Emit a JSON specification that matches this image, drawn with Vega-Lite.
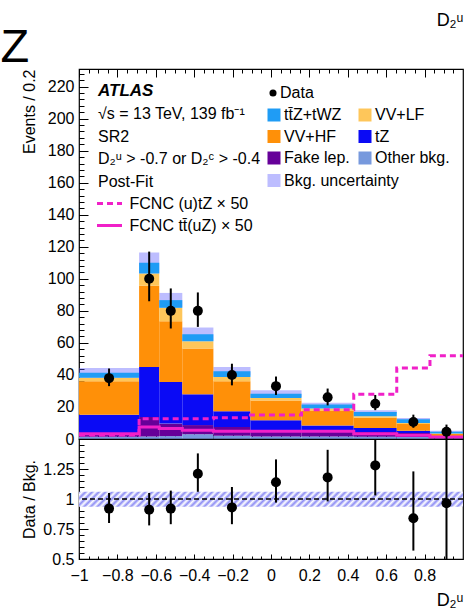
{
 "$schema": "https://vega.github.io/schema/vega-lite/v6.json",
 "background": "white",
 "padding": {"left": 0, "top": 10, "right": 0, "bottom": 0},
 "spacing": 0,
 "bounds": "flush",
 "title": {"text": "Z", "anchor": "start", "frame": "bounds", "fontSize": 47, "fontWeight": "normal", "color": "black", "offset": -61, "dx": -20},
 "config": {
  "font": "Liberation Sans",
  "view": {"stroke": "black", "strokeWidth": 1.2},
  "axis": {"domain": false, "grid": false, "labelFontSize": 16, "labelColor": "black", "labelFont": "Liberation Sans", "tickColor": "black", "tickWidth": 1, "titleFontSize": 16, "titleFontWeight": "normal", "titleColor": "black", "titleFont": "Liberation Sans", "labelOverlap": false, "labelFlush": false},
  "legend": {"labelFontSize": 16, "labelColor": "black", "labelFont": "Liberation Sans", "padding": 0}
 },
 "datasets": {
  "bkg": [
   {"lo": -1, "hi": -0.687, "c": "Other bkg.", "k": 1, "v": 1.35},
   {"lo": -1, "hi": -0.687, "c": "Fake lep.", "k": 2, "v": 2.4},
   {"lo": -1, "hi": -0.687, "c": "tZ", "k": 3, "v": 11.45},
   {"lo": -1, "hi": -0.687, "c": "VV+HF", "k": 4, "v": 20.9},
   {"lo": -1, "hi": -0.687, "c": "VV+LF", "k": 5, "v": 2.2},
   {"lo": -1, "hi": -0.687, "c": "tt̄Z+tWZ", "k": 6, "v": 3.0},
   {"lo": -0.687, "hi": -0.582, "c": "Other bkg.", "k": 1, "v": 1.5},
   {"lo": -0.687, "hi": -0.582, "c": "Fake lep.", "k": 2, "v": 12.25},
   {"lo": -0.687, "hi": -0.582, "c": "tZ", "k": 3, "v": 31.25},
   {"lo": -0.687, "hi": -0.582, "c": "VV+HF", "k": 4, "v": 50.6},
   {"lo": -0.687, "hi": -0.582, "c": "VV+LF", "k": 5, "v": 7.7},
   {"lo": -0.687, "hi": -0.582, "c": "tt̄Z+tWZ", "k": 6, "v": 6.7},
   {"lo": -0.582, "hi": -0.462, "c": "Other bkg.", "k": 1, "v": 1.8},
   {"lo": -0.582, "hi": -0.462, "c": "Fake lep.", "k": 2, "v": 7.8},
   {"lo": -0.582, "hi": -0.462, "c": "tZ", "k": 3, "v": 26.0},
   {"lo": -0.582, "hi": -0.462, "c": "VV+HF", "k": 4, "v": 37.9},
   {"lo": -0.582, "hi": -0.462, "c": "VV+LF", "k": 5, "v": 8.4},
   {"lo": -0.582, "hi": -0.462, "c": "tt̄Z+tWZ", "k": 6, "v": 4.8},
   {"lo": -0.462, "hi": -0.3, "c": "Other bkg.", "k": 1, "v": 3.0},
   {"lo": -0.462, "hi": -0.3, "c": "Fake lep.", "k": 2, "v": 5.7},
   {"lo": -0.462, "hi": -0.3, "c": "tZ", "k": 3, "v": 19.2},
   {"lo": -0.462, "hi": -0.3, "c": "VV+HF", "k": 4, "v": 28.6},
   {"lo": -0.462, "hi": -0.3, "c": "VV+LF", "k": 5, "v": 4.5},
   {"lo": -0.462, "hi": -0.3, "c": "tt̄Z+tWZ", "k": 6, "v": 4.4},
   {"lo": -0.3, "hi": -0.107, "c": "Other bkg.", "k": 1, "v": 2.0},
   {"lo": -0.3, "hi": -0.107, "c": "Fake lep.", "k": 2, "v": 5.5},
   {"lo": -0.3, "hi": -0.107, "c": "tZ", "k": 3, "v": 9.8},
   {"lo": -0.3, "hi": -0.107, "c": "VV+HF", "k": 4, "v": 18.7},
   {"lo": -0.3, "hi": -0.107, "c": "VV+LF", "k": 5, "v": 2.75},
   {"lo": -0.3, "hi": -0.107, "c": "tt̄Z+tWZ", "k": 6, "v": 3.55},
   {"lo": -0.107, "hi": 0.159, "c": "Other bkg.", "k": 1, "v": 1.6},
   {"lo": -0.107, "hi": 0.159, "c": "Fake lep.", "k": 2, "v": 3.8},
   {"lo": -0.107, "hi": 0.159, "c": "tZ", "k": 3, "v": 6.3},
   {"lo": -0.107, "hi": 0.159, "c": "VV+HF", "k": 4, "v": 12.3},
   {"lo": -0.107, "hi": 0.159, "c": "VV+LF", "k": 5, "v": 1.6},
   {"lo": -0.107, "hi": 0.159, "c": "tt̄Z+tWZ", "k": 6, "v": 2.7},
   {"lo": 0.159, "hi": 0.431, "c": "Other bkg.", "k": 1, "v": 1.5},
   {"lo": 0.159, "hi": 0.431, "c": "Fake lep.", "k": 2, "v": 3.3},
   {"lo": 0.159, "hi": 0.431, "c": "tZ", "k": 3, "v": 3.7},
   {"lo": 0.159, "hi": 0.431, "c": "VV+HF", "k": 4, "v": 9.0},
   {"lo": 0.159, "hi": 0.431, "c": "VV+LF", "k": 5, "v": 1.5},
   {"lo": 0.159, "hi": 0.431, "c": "tt̄Z+tWZ", "k": 6, "v": 2.5},
   {"lo": 0.431, "hi": 0.655, "c": "Other bkg.", "k": 1, "v": 1.4},
   {"lo": 0.431, "hi": 0.655, "c": "Fake lep.", "k": 2, "v": 3.0},
   {"lo": 0.431, "hi": 0.655, "c": "tZ", "k": 3, "v": 2.5},
   {"lo": 0.431, "hi": 0.655, "c": "VV+HF", "k": 4, "v": 6.4},
   {"lo": 0.431, "hi": 0.655, "c": "VV+LF", "k": 5, "v": 0.9},
   {"lo": 0.431, "hi": 0.655, "c": "tt̄Z+tWZ", "k": 6, "v": 2.7},
   {"lo": 0.655, "hi": 0.828, "c": "Other bkg.", "k": 1, "v": 1.2},
   {"lo": 0.655, "hi": 0.828, "c": "Fake lep.", "k": 2, "v": 2.55},
   {"lo": 0.655, "hi": 0.828, "c": "tZ", "k": 3, "v": 1.45},
   {"lo": 0.655, "hi": 0.828, "c": "VV+HF", "k": 4, "v": 4.2},
   {"lo": 0.655, "hi": 0.828, "c": "VV+LF", "k": 5, "v": 0.6},
   {"lo": 0.655, "hi": 0.828, "c": "tt̄Z+tWZ", "k": 6, "v": 2.3},
   {"lo": 0.828, "hi": 1.0, "c": "Other bkg.", "k": 1, "v": 0.3},
   {"lo": 0.828, "hi": 1.0, "c": "Fake lep.", "k": 2, "v": 0.7},
   {"lo": 0.828, "hi": 1.0, "c": "tZ", "k": 3, "v": 0.6},
   {"lo": 0.828, "hi": 1.0, "c": "VV+HF", "k": 4, "v": 1.6},
   {"lo": 0.828, "hi": 1.0, "c": "VV+LF", "k": 5, "v": 0.3},
   {"lo": 0.828, "hi": 1.0, "c": "tt̄Z+tWZ", "k": 6, "v": 1.1}
  ],
  "tot": [
   {"lo": -1, "hi": -0.687, "xc": -0.8435, "ulo": 38.3, "uhi": 44.3, "n": 38, "nlo": 33, "nhi": 44, "r": 0.92, "rlo": 0.8, "rhi": 1.05},
   {"lo": -0.687, "hi": -0.582, "xc": -0.6345, "ulo": 103.5, "uhi": 116.5, "n": 100, "nlo": 86, "nhi": 117, "r": 0.91, "rlo": 0.78, "rhi": 1.05},
   {"lo": -0.582, "hi": -0.462, "xc": -0.522, "ulo": 82.2, "uhi": 91.2, "n": 80, "nlo": 69, "nhi": 94, "r": 0.92, "rlo": 0.79, "rhi": 1.07},
   {"lo": -0.462, "hi": -0.3, "xc": -0.381, "ulo": 61.2, "uhi": 69.6, "n": 80, "nlo": 70, "nhi": 91.5, "r": 1.21, "rlo": 1.06, "rhi": 1.38},
   {"lo": -0.3, "hi": -0.107, "xc": -0.2035, "ulo": 39.6, "uhi": 45.0, "n": 40, "nlo": 33.5, "nhi": 47, "r": 0.93, "rlo": 0.79, "rhi": 1.1},
   {"lo": -0.107, "hi": 0.159, "xc": 0.026, "ulo": 26.2, "uhi": 30.4, "n": 33, "nlo": 27.5, "nhi": 39, "r": 1.14, "rlo": 0.97, "rhi": 1.33},
   {"lo": 0.159, "hi": 0.431, "xc": 0.295, "ulo": 20.3, "uhi": 22.7, "n": 26, "nlo": 21, "nhi": 31.5, "r": 1.18, "rlo": 0.98, "rhi": 1.41},
   {"lo": 0.431, "hi": 0.655, "xc": 0.543, "ulo": 15.9, "uhi": 17.9, "n": 22, "nlo": 18, "nhi": 27.5, "r": 1.28, "rlo": 1.03, "rhi": 1.6},
   {"lo": 0.655, "hi": 0.828, "xc": 0.7415, "ulo": 11.5, "uhi": 13.1, "n": 10.6, "nlo": 7, "nhi": 15.2, "r": 0.84, "rlo": 0.57, "rhi": 1.23},
   {"lo": 0.828, "hi": 1.0, "xc": 0.914, "ulo": 4.1, "uhi": 5.1, "n": 4.5, "nlo": 0, "nhi": 9, "r": 0.964, "rlo": 0, "rhi": 2.1}
  ],
  "rband": [
   {"lo": -1, "hi": 1, "blo": 0.935, "bhi": 1.06}
  ],
  "fcnc": [
   {"s": "FCNC (u)tZ × 50", "e": -1, "w": 2.5},
   {"s": "FCNC (u)tZ × 50", "e": -0.687, "w": 12.7},
   {"s": "FCNC (u)tZ × 50", "e": -0.582, "w": 12.7},
   {"s": "FCNC (u)tZ × 50", "e": -0.462, "w": 12.7},
   {"s": "FCNC (u)tZ × 50", "e": -0.3, "w": 13.2},
   {"s": "FCNC (u)tZ × 50", "e": -0.107, "w": 15.0},
   {"s": "FCNC (u)tZ × 50", "e": 0.159, "w": 18.3},
   {"s": "FCNC (u)tZ × 50", "e": 0.431, "w": 27.9},
   {"s": "FCNC (u)tZ × 50", "e": 0.655, "w": 44.4},
   {"s": "FCNC (u)tZ × 50", "e": 0.828, "w": 51.9},
   {"s": "FCNC (u)tZ × 50", "e": 1.0, "w": 51.9},
   {"s": "FCNC tt̄(uZ) × 50", "e": -1, "w": 3.3},
   {"s": "FCNC tt̄(uZ) × 50", "e": -0.687, "w": 7.5},
   {"s": "FCNC tt̄(uZ) × 50", "e": -0.582, "w": 6.5},
   {"s": "FCNC tt̄(uZ) × 50", "e": -0.462, "w": 5.4},
   {"s": "FCNC tt̄(uZ) × 50", "e": -0.3, "w": 4.8},
   {"s": "FCNC tt̄(uZ) × 50", "e": -0.107, "w": 4.8},
   {"s": "FCNC tt̄(uZ) × 50", "e": 0.159, "w": 4.8},
   {"s": "FCNC tt̄(uZ) × 50", "e": 0.431, "w": 3.3},
   {"s": "FCNC tt̄(uZ) × 50", "e": 0.655, "w": 2.3},
   {"s": "FCNC tt̄(uZ) × 50", "e": 0.828, "w": 1.2},
   {"s": "FCNC tt̄(uZ) × 50", "e": 1.0, "w": 1.2}
  ]
 },
 "resolve": {"legend": {"color": "independent", "fill": "independent", "shape": "independent", "strokeDash": "independent"}},
 "vconcat": [
  {
   "width": 384, "height": 370,
   "title": {"text": "ATLAS", "subtitle": ["√s = 13 TeV, 139 fb⁻¹", "SR2", "D₂ᵘ > -0.7 or D₂ᶜ > -0.4", "Post-Fit"], "anchor": "start", "frame": "group", "fontSize": 17, "fontStyle": "italic", "fontWeight": "bold", "color": "black", "subtitleFontSize": 16, "subtitleColor": "black", "subtitleFont": "Liberation Sans", "subtitleLineHeight": 22.5, "subtitlePadding": 6, "offset": -179, "dx": 19},
   "resolve": {"axis": {"x": "independent", "y": "independent"}},
   "layer": [
    {
     "data": {"name": "tot"},
     "mark": {"type": "bar", "fillOpacity": 0.4, "strokeWidth": 0},
     "encoding": {
      "x": {"field": "lo", "type": "quantitative", "scale": {"domain": [-1, 1], "nice": false, "zero": false},
       "axis": {"orient": "bottom", "labels": false, "title": null, "tickSize": -5,
        "values": [-1,-0.95,-0.9,-0.85,-0.8,-0.75,-0.7,-0.65,-0.6,-0.55,-0.5,-0.45,-0.4,-0.35,-0.3,-0.25,-0.2,-0.15,-0.1,-0.05,0,0.05,0.1,0.15,0.2,0.25,0.3,0.35,0.4,0.45,0.5,0.55,0.6,0.65,0.7,0.75,0.8,0.85,0.9,0.95]}},
      "x2": {"field": "hi"},
      "y": {"field": "ulo", "type": "quantitative", "scale": {"domain": [0, 231], "nice": false},
       "axis": {"orient": "left", "labels": false, "title": null, "tickSize": -9, "values": [0,20,40,60,80,100,120,140,160,180,200,220]}},
      "y2": {"field": "uhi"},
      "fill": {"datum": "Bkg. uncertainty", "scale": {"range": ["#5a5aff"]},
       "legend": {"orient": "none", "legendX": 187, "legendY": 103.5, "title": null, "symbolType": "square", "symbolSize": 169, "symbolOpacity": 0.4, "symbolStrokeWidth": 0, "labelOffset": 2}}
     }
    },
    {
     "data": {"name": "bkg"},
     "transform": [{"stack": "v", "groupby": ["lo"], "sort": [{"field": "k", "order": "ascending"}], "as": ["y0", "y1"]}],
     "mark": {"type": "bar", "strokeWidth": 0},
     "encoding": {
      "x": {"field": "lo", "type": "quantitative", "scale": {"domain": [-1, 1], "nice": false, "zero": false},
       "axis": {"orient": "bottom", "labels": false, "title": null, "values": [-1,-0.8,-0.6,-0.4,-0.2,0,0.2,0.4,0.6,0.8], "tickSize": -9}},
      "x2": {"field": "hi"},
      "y": {"field": "y0", "type": "quantitative", "scale": {"domain": [0, 231], "nice": false},
       "axis": {"orient": "left", "title": "Events / 0.2", "titleAnchor": "end", "titleX": -42, "ticks": false, "labelPadding": 5,
        "values": [0,20,40,60,80,100,120,140,160,180,200,220]}},
      "y2": {"field": "y1"},
      "color": {"field": "c", "type": "nominal",
       "scale": {"domain": ["tt̄Z+tWZ", "VV+HF", "Fake lep.", "VV+LF", "tZ", "Other bkg."], "range": ["#1f9cf5", "#ff9008", "#660099", "#fec65a", "#0a0af5", "#7799dd"]},
       "legend": {"orient": "none", "legendX": 187, "legendY": 38, "title": null, "columns": 2, "columnPadding": 7, "rowPadding": 5.5, "symbolType": "square", "symbolSize": 169, "symbolStrokeWidth": 0, "labelOffset": 2}}
     }
    },
    {
     "data": {"name": "fcnc"},
     "mark": {"type": "line", "interpolate": "step-after", "strokeWidth": 3, "color": "#f020c8"},
     "encoding": {
      "x": {"field": "e", "type": "quantitative", "scale": {"domain": [-1, 1], "nice": false, "zero": false},
       "axis": {"orient": "top", "labels": false, "title": null, "values": [-1,-0.8,-0.6,-0.4,-0.2,0,0.2,0.4,0.6,0.8], "tickSize": -8}},
      "y": {"field": "w", "type": "quantitative", "scale": {"domain": [0, 231], "nice": false},
       "axis": {"orient": "left", "labels": false, "title": null, "tickSize": -5,
        "values": [0,4,8,12,16,20,24,28,32,36,40,44,48,52,56,60,64,68,72,76,80,84,88,92,96,100,104,108,112,116,120,124,128,132,136,140,144,148,152,156,160,164,168,172,176,180,184,188,192,196,200,204,208,212,216,220,224,228]}},
      "strokeDash": {"field": "s", "type": "nominal", "scale": {"domain": ["FCNC (u)tZ × 50", "FCNC tt̄(uZ) × 50"], "range": [[6, 4], [1, 0]]},
       "legend": {"orient": "none", "legendX": 16.5, "legendY": 120.5, "title": null, "symbolType": "stroke", "symbolSize": 625, "symbolStrokeWidth": 3, "symbolStrokeColor": "#f020c8", "rowPadding": -6, "labelOffset": 6}}
     }
    },
    {
     "data": {"name": "tot"},
     "mark": {"type": "rule", "strokeWidth": 2, "color": "black"},
     "encoding": {
      "x": {"field": "xc", "type": "quantitative", "scale": {"domain": [-1, 1], "nice": false, "zero": false},
       "axis": {"orient": "top", "labels": false, "title": "D₂ᵘ", "titleAnchor": "end", "titleFontSize": 18, "titlePadding": 39, "tickSize": -4,
        "values": [-1,-0.95,-0.9,-0.85,-0.8,-0.75,-0.7,-0.65,-0.6,-0.55,-0.5,-0.45,-0.4,-0.35,-0.3,-0.25,-0.2,-0.15,-0.1,-0.05,0,0.05,0.1,0.15,0.2,0.25,0.3,0.35,0.4,0.45,0.5,0.55,0.6,0.65,0.7,0.75,0.8,0.85,0.9,0.95]}},
      "y": {"field": "nlo", "type": "quantitative", "scale": {"domain": [0, 231], "nice": false}, "axis": null},
      "y2": {"field": "nhi"}
     }
    },
    {
     "data": {"name": "tot"},
     "mark": {"type": "point", "filled": true, "size": 100, "color": "black", "opacity": 1},
     "encoding": {
      "x": {"field": "xc", "type": "quantitative", "scale": {"domain": [-1, 1], "nice": false, "zero": false}, "axis": null},
      "y": {"field": "n", "type": "quantitative", "scale": {"domain": [0, 231], "nice": false}, "axis": null},
      "shape": {"datum": "Data", "scale": {"range": ["circle"]},
       "legend": {"orient": "none", "legendX": 186, "legendY": 16, "title": null, "symbolSize": 50, "symbolFillColor": "black", "symbolStrokeColor": "black", "labelOffset": -1}}
     }
    }
   ]
  },
  {
   "width": 384, "height": 120,
   "resolve": {"axis": {"x": "independent", "y": "independent"}},
   "layer": [
    {
     "data": {"name": "rband"},
     "mark": {"type": "bar", "strokeWidth": 0, "fill": {"gradient": "linear", "x1": 0, "y1": 0, "x2": 1.04, "y2": 0.0406, "stops": [
      {"offset": 0, "color": "#8c8cf4"}, {"offset": 0.0083, "color": "#ffffff"}, {"offset": 0.0167, "color": "#8c8cf4"}, {"offset": 0.025, "color": "#ffffff"}, {"offset": 0.0333, "color": "#8c8cf4"}, {"offset": 0.0417, "color": "#ffffff"}, {"offset": 0.05, "color": "#8c8cf4"}, {"offset": 0.0583, "color": "#ffffff"}, {"offset": 0.0667, "color": "#8c8cf4"}, {"offset": 0.075, "color": "#ffffff"}, {"offset": 0.0833, "color": "#8c8cf4"}, {"offset": 0.0917, "color": "#ffffff"}, {"offset": 0.1, "color": "#8c8cf4"}, {"offset": 0.1083, "color": "#ffffff"}, {"offset": 0.1167, "color": "#8c8cf4"}, {"offset": 0.125, "color": "#ffffff"}, {"offset": 0.1333, "color": "#8c8cf4"}, {"offset": 0.1417, "color": "#ffffff"}, {"offset": 0.15, "color": "#8c8cf4"}, {"offset": 0.1583, "color": "#ffffff"}, {"offset": 0.1667, "color": "#8c8cf4"}, {"offset": 0.175, "color": "#ffffff"}, {"offset": 0.1833, "color": "#8c8cf4"}, {"offset": 0.1917, "color": "#ffffff"}, {"offset": 0.2, "color": "#8c8cf4"}, {"offset": 0.2083, "color": "#ffffff"}, {"offset": 0.2167, "color": "#8c8cf4"}, {"offset": 0.225, "color": "#ffffff"}, {"offset": 0.2333, "color": "#8c8cf4"}, {"offset": 0.2417, "color": "#ffffff"},
      {"offset": 0.25, "color": "#8c8cf4"}, {"offset": 0.2583, "color": "#ffffff"}, {"offset": 0.2667, "color": "#8c8cf4"}, {"offset": 0.275, "color": "#ffffff"}, {"offset": 0.2833, "color": "#8c8cf4"}, {"offset": 0.2917, "color": "#ffffff"}, {"offset": 0.3, "color": "#8c8cf4"}, {"offset": 0.3083, "color": "#ffffff"}, {"offset": 0.3167, "color": "#8c8cf4"}, {"offset": 0.325, "color": "#ffffff"}, {"offset": 0.3333, "color": "#8c8cf4"}, {"offset": 0.3417, "color": "#ffffff"}, {"offset": 0.35, "color": "#8c8cf4"}, {"offset": 0.3583, "color": "#ffffff"}, {"offset": 0.3667, "color": "#8c8cf4"}, {"offset": 0.375, "color": "#ffffff"}, {"offset": 0.3833, "color": "#8c8cf4"}, {"offset": 0.3917, "color": "#ffffff"}, {"offset": 0.4, "color": "#8c8cf4"}, {"offset": 0.4083, "color": "#ffffff"}, {"offset": 0.4167, "color": "#8c8cf4"}, {"offset": 0.425, "color": "#ffffff"}, {"offset": 0.4333, "color": "#8c8cf4"}, {"offset": 0.4417, "color": "#ffffff"}, {"offset": 0.45, "color": "#8c8cf4"}, {"offset": 0.4583, "color": "#ffffff"}, {"offset": 0.4667, "color": "#8c8cf4"}, {"offset": 0.475, "color": "#ffffff"}, {"offset": 0.4833, "color": "#8c8cf4"}, {"offset": 0.4917, "color": "#ffffff"},
      {"offset": 0.5, "color": "#8c8cf4"}, {"offset": 0.5083, "color": "#ffffff"}, {"offset": 0.5167, "color": "#8c8cf4"}, {"offset": 0.525, "color": "#ffffff"}, {"offset": 0.5333, "color": "#8c8cf4"}, {"offset": 0.5417, "color": "#ffffff"}, {"offset": 0.55, "color": "#8c8cf4"}, {"offset": 0.5583, "color": "#ffffff"}, {"offset": 0.5667, "color": "#8c8cf4"}, {"offset": 0.575, "color": "#ffffff"}, {"offset": 0.5833, "color": "#8c8cf4"}, {"offset": 0.5917, "color": "#ffffff"}, {"offset": 0.6, "color": "#8c8cf4"}, {"offset": 0.6083, "color": "#ffffff"}, {"offset": 0.6167, "color": "#8c8cf4"}, {"offset": 0.625, "color": "#ffffff"}, {"offset": 0.6333, "color": "#8c8cf4"}, {"offset": 0.6417, "color": "#ffffff"}, {"offset": 0.65, "color": "#8c8cf4"}, {"offset": 0.6583, "color": "#ffffff"}, {"offset": 0.6667, "color": "#8c8cf4"}, {"offset": 0.675, "color": "#ffffff"}, {"offset": 0.6833, "color": "#8c8cf4"}, {"offset": 0.6917, "color": "#ffffff"}, {"offset": 0.7, "color": "#8c8cf4"}, {"offset": 0.7083, "color": "#ffffff"}, {"offset": 0.7167, "color": "#8c8cf4"}, {"offset": 0.725, "color": "#ffffff"}, {"offset": 0.7333, "color": "#8c8cf4"}, {"offset": 0.7417, "color": "#ffffff"},
      {"offset": 0.75, "color": "#8c8cf4"}, {"offset": 0.7583, "color": "#ffffff"}, {"offset": 0.7667, "color": "#8c8cf4"}, {"offset": 0.775, "color": "#ffffff"}, {"offset": 0.7833, "color": "#8c8cf4"}, {"offset": 0.7917, "color": "#ffffff"}, {"offset": 0.8, "color": "#8c8cf4"}, {"offset": 0.8083, "color": "#ffffff"}, {"offset": 0.8167, "color": "#8c8cf4"}, {"offset": 0.825, "color": "#ffffff"}, {"offset": 0.8333, "color": "#8c8cf4"}, {"offset": 0.8417, "color": "#ffffff"}, {"offset": 0.85, "color": "#8c8cf4"}, {"offset": 0.8583, "color": "#ffffff"}, {"offset": 0.8667, "color": "#8c8cf4"}, {"offset": 0.875, "color": "#ffffff"}, {"offset": 0.8833, "color": "#8c8cf4"}, {"offset": 0.8917, "color": "#ffffff"}, {"offset": 0.9, "color": "#8c8cf4"}, {"offset": 0.9083, "color": "#ffffff"}, {"offset": 0.9167, "color": "#8c8cf4"}, {"offset": 0.925, "color": "#ffffff"}, {"offset": 0.9333, "color": "#8c8cf4"}, {"offset": 0.9417, "color": "#ffffff"}, {"offset": 0.95, "color": "#8c8cf4"}, {"offset": 0.9583, "color": "#ffffff"}, {"offset": 0.9667, "color": "#8c8cf4"}, {"offset": 0.975, "color": "#ffffff"}, {"offset": 0.9833, "color": "#8c8cf4"}, {"offset": 0.9917, "color": "#ffffff"}, {"offset": 1, "color": "#8c8cf4"}
     ]}},
     "encoding": {
      "x": {"field": "lo", "type": "quantitative", "scale": {"domain": [-1, 1], "nice": false, "zero": false},
       "axis": {"orient": "bottom", "title": "D₂ᵘ", "titleAnchor": "end", "titleFontSize": 18, "titlePadding": 8, "labelPadding": 8, "ticks": false,
        "values": [-1,-0.8,-0.6,-0.4,-0.2,0,0.2,0.4,0.6,0.8],
        "labelExpr": "format(datum.value, '.1~f')"}},
      "x2": {"field": "hi"},
      "y": {"field": "blo", "type": "quantitative", "scale": {"domain": [0.5, 1.5], "nice": false, "zero": false},
       "axis": {"orient": "left", "title": "Data / Bkg.", "titleAnchor": "middle", "titleX": -42, "ticks": false, "labelPadding": 5,
        "values": [0.5, 0.75, 1, 1.25],
        "labelExpr": "format(datum.value, '.2~f')"}},
      "y2": {"field": "bhi"}
     }
    },
    {
     "data": {"values": [{}]},
     "mark": {"type": "rule", "strokeDash": [5, 3], "strokeWidth": 1.5, "color": "black"},
     "encoding": {"y": {"datum": 1, "type": "quantitative", "scale": {"domain": [0.5, 1.5], "nice": false, "zero": false},
       "axis": {"orient": "left", "labels": false, "title": null, "tickSize": -9, "values": [0.5, 0.75, 1, 1.25]}}}
    },
    {
     "data": {"name": "tot"},
     "mark": {"type": "rule", "strokeWidth": 2, "color": "black", "clip": true},
     "encoding": {
      "x": {"field": "xc", "type": "quantitative", "scale": {"domain": [-1, 1], "nice": false, "zero": false},
       "axis": {"orient": "bottom", "labels": false, "title": null, "tickSize": -5, "values": [-1,-0.8,-0.6,-0.4,-0.2,0,0.2,0.4,0.6,0.8]}},
      "y": {"field": "rlo", "type": "quantitative", "scale": {"domain": [0.5, 1.5], "nice": false, "zero": false},
       "axis": {"orient": "left", "labels": false, "title": null, "tickSize": -5,
        "values": [0.5,0.55,0.6,0.65,0.7,0.75,0.8,0.85,0.9,0.95,1,1.05,1.1,1.15,1.2,1.25,1.3,1.35,1.4,1.45]}},
      "y2": {"field": "rhi"}
     }
    },
    {
     "data": {"name": "tot"},
     "mark": {"type": "point", "filled": true, "size": 100, "color": "black", "opacity": 1},
     "encoding": {
      "x": {"field": "xc", "type": "quantitative", "scale": {"domain": [-1, 1], "nice": false, "zero": false},
       "axis": {"orient": "bottom", "labels": false, "title": null, "tickSize": -3,
        "values": [-1,-0.95,-0.9,-0.85,-0.8,-0.75,-0.7,-0.65,-0.6,-0.55,-0.5,-0.45,-0.4,-0.35,-0.3,-0.25,-0.2,-0.15,-0.1,-0.05,0,0.05,0.1,0.15,0.2,0.25,0.3,0.35,0.4,0.45,0.5,0.55,0.6,0.65,0.7,0.75,0.8,0.85,0.9,0.95]}},
      "y": {"field": "r", "type": "quantitative", "scale": {"domain": [0.5, 1.5], "nice": false, "zero": false}, "axis": null}
     }
    }
   ]
  }
 ]
}
